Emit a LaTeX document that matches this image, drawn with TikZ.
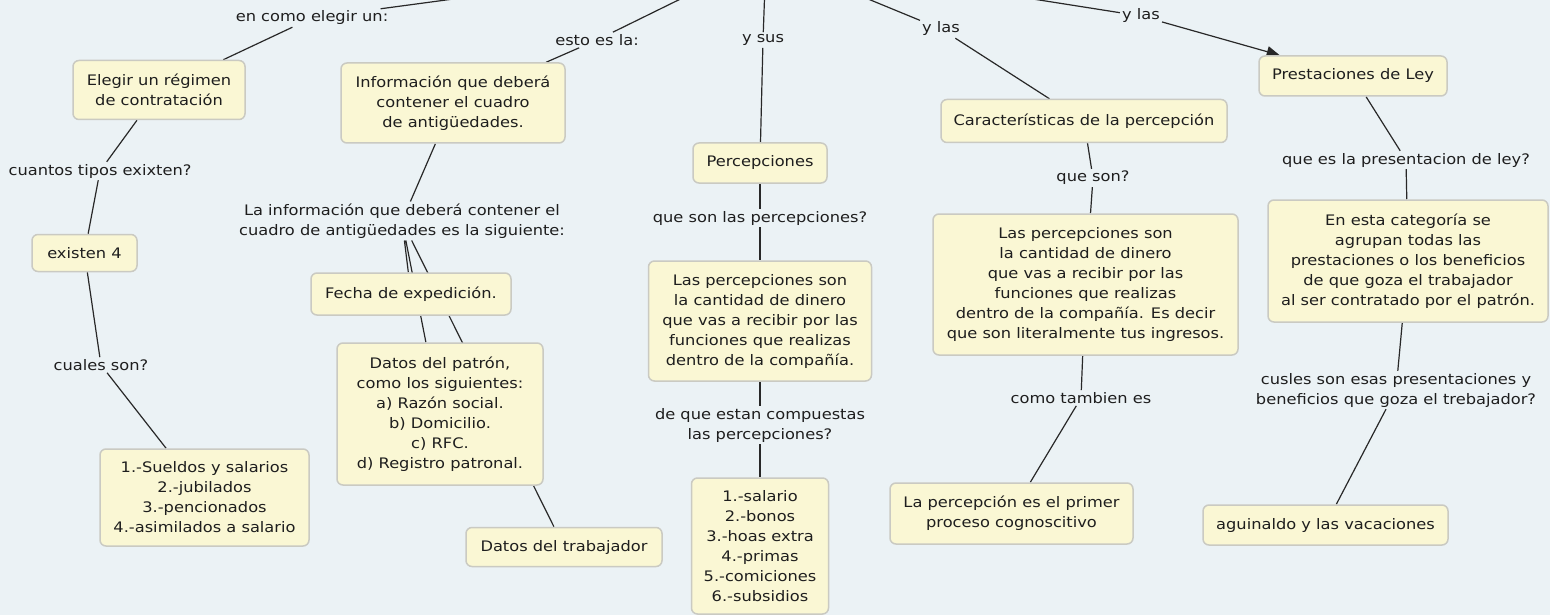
\documentclass[tikz,border=0pt]{standalone}
\usepackage{fontspec}
\setmainfont[FakeStretch=1.12]{DejaVu Sans}
\usetikzlibrary{positioning, arrows.meta, backgrounds}
\definecolor{cmfill}{RGB}{250,247,212}
\definecolor{cmborder}{RGB}{202,202,194}
\definecolor{cmback}{RGB}{235,242,245}
\definecolor{cmtext}{RGB}{30,30,30}
\definecolor{cmline}{RGB}{40,40,40}
\newcommand{\cmfont}{\fontsize{14.5}{20}\selectfont}
\tikzset{
  concept/.style={draw=cmborder, line width=1.5pt, fill=cmfill, rounded corners=6pt,
                  align=center, text=cmtext, font=\cmfont, inner sep=3pt},
  linkword/.style={align=center, text=cmtext, font=\cmfont, inner sep=2pt},
  link/.style={draw=cmline, line width=1.2pt}
}

\begin{document}
\begin{tikzpicture}[x=1pt,y=-1pt,>={Triangle[length=13pt,width=11pt]},node distance=1cm]
  \useasboundingbox (0,0) rectangle (1550,615);
  % concepts
  \node[concept, minimum width=172pt, minimum height=59pt] (Regimen) at (159,90) {Elegir un régimen\\de contratación};
  \node[concept, minimum width=105pt, minimum height=37pt] (Existen) at (84.5,253) {existen 4};
  \node[concept, minimum width=209pt, minimum height=97pt] (Tipos) at (204.5,497.5) {1.-Sueldos y salarios\\2.-jubilados\\3.-pencionados\\4.-asimilados a salario};
  \node[concept, minimum width=224pt, minimum height=80pt] (Info) at (453,103) {Información que deberá\\contener el cuadro\\de antigüedades.};
  \node[concept, minimum width=200pt, minimum height=42pt] (Fecha) at (411,294) {Fecha de expedición.};
  \node[concept, minimum width=206pt, minimum height=142pt] (Patron) at (440,414) {Datos del patrón,\\como los siguientes:\\a) Razón social.\\b) Domicilio.\\c) RFC.\\d) Registro patronal.};
  \node[concept, minimum width=196pt, minimum height=39pt] (Trabajador) at (564,547) {Datos del trabajador};
  \node[concept, minimum width=134pt, minimum height=40pt] (Percep) at (760,163) {Percepciones};
  \node[concept, minimum width=223pt, minimum height=120pt, below of=Percep, node distance=158pt] (Defin) {Las percepciones son\\la cantidad de dinero\\que vas a recibir por las\\funciones que realizas\\dentro de la compañía.};
  \node[concept, minimum width=137pt, minimum height=136pt, below of=Defin, node distance=225pt] (Compon) {1.-salario\\2.-bonos\\3.-hoas extra\\4.-primas\\5.-comiciones\\6.-subsidios};
  \node[concept, minimum width=286pt, minimum height=43pt] (Caract) at (1084,121) {Características de la percepción};
  \node[concept, minimum width=305pt, minimum height=141pt] (CaractDef) at (1085.5,284.5) {Las percepciones son\\la cantidad de dinero\\que vas a recibir por las\\funciones que realizas\\dentro de la compañía. Es decir\\que son literalmente tus ingresos.};
  \node[concept, minimum width=243pt, minimum height=61pt] (Cognos) at (1011.5,513.5) {La percepción es el primer\\proceso cognoscitivo};
  \node[concept, minimum width=188pt, minimum height=40pt] (Prest) at (1353,76) {Prestaciones de Ley};
  \node[concept, minimum width=280pt, minimum height=122pt] (PrestDef) at (1408,261) {En esta categoría se\\agrupan todas las\\prestaciones o los beneficios\\de que goza el trabajador\\al ser contratado por el patrón.};
  \node[concept, minimum width=245pt, minimum height=40pt] (Aguinaldo) at (1325.5,525) {aguinaldo y las vacaciones};
  % linking words
  \node[linkword] (lElegir) at (312,18) {en como elegir un:};
  \node[linkword] (lInfo) at (597,40) {esto es la:};
  \node[linkword] (lSus) at (763,40) {y sus};
  \node[linkword] (lCaract) at (941,29) {y las};
  \node[linkword] (lPrest) at (1141,16) {y las};
  \node[linkword] (lTipos) at (100,171) {cuantos tipos exixten?};
  \node[linkword] (lCuales) at (101,365) {cuales son?};
  \node[linkword] (lContenido) at (402,221) {La información que deberá contener el\\cuadro de antigüedades es la siguiente:};
  \node[linkword] (lQueSon) at (760,218) {que son las percepciones?};
  \node[linkword] (lCompuestas) at (760,425) {de que estan compuestas\\las percepciones?};
  \node[linkword] (lSon) at (1093,178) {que son?};
  \node[linkword] (lTambien) at (1081,398) {como tambien es};
  \node[linkword] (lLey) at (1406,160) {que es la presentacion de ley?};
  \node[linkword] (lBeneficios) at (1396,390) {cusles son esas presentaciones y\\beneficios que goza el trebajador?};
  % root concept sits above the visible part
  \coordinate (Root) at (766,-43);

  \begin{scope}[on background layer]
    \fill[cmback] (0,0) rectangle (1550,615);
    \clip (0,0) rectangle (1550,615);
    \draw[link] (Root) -- (lElegir) (lElegir) -- (Regimen);
    \draw[link] (Root) -- (lInfo) (lInfo) -- (Info);
    \draw[link] (Root) -- (lSus) (lSus) -- (Percep);
    \draw[link] (Root) -- (lCaract) (lCaract) -- (Caract);
    \draw[link] (Root) -- (lPrest);
    \draw[link,->] (lPrest) -- (Prest);
    \draw[link] (Regimen) -- (lTipos) (lTipos) -- (Existen);
    \draw[link] (Existen) -- (lCuales) (lCuales) -- (Tipos);
    \draw[link] (Info) -- (lContenido);
    \draw[link] (lContenido) -- (Fecha) (lContenido) -- (Patron) (lContenido) -- (Trabajador);
    \draw[link] (Percep) -- (lQueSon) (lQueSon) -- (Defin);
    \draw[link] (Defin) -- (lCompuestas) (lCompuestas) -- (Compon);
    \draw[link] (Caract) -- (lSon) (lSon) -- (CaractDef);
    \draw[link] (CaractDef) -- (lTambien) (lTambien) -- (Cognos);
    \draw[link] (Prest) -- (lLey) (lLey) -- (PrestDef);
    \draw[link] (PrestDef) -- (lBeneficios) (lBeneficios) -- (Aguinaldo);
  \end{scope}
\end{tikzpicture}
\end{document}
